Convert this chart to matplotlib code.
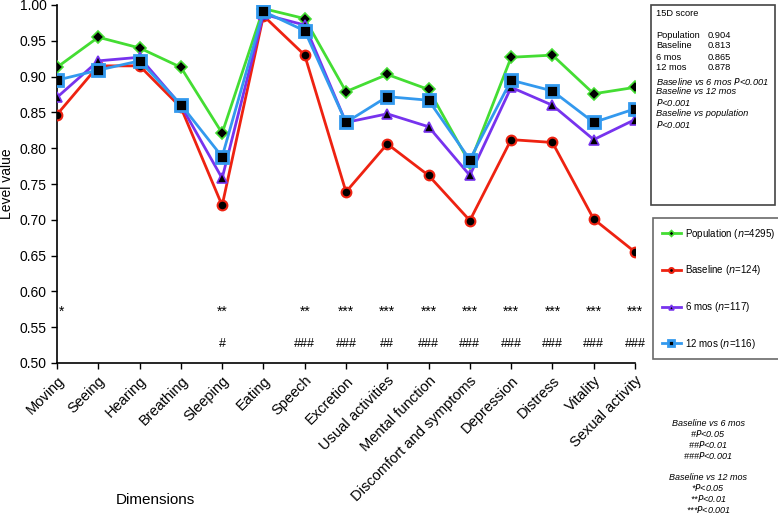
import numpy as np
import matplotlib.pyplot as plt

plt.rcParams['font.family'] = ['Liberation Sans', 'DejaVu Sans']

dimensions = ['Moving', 'Seeing', 'Hearing', 'Breathing', 'Sleeping', 'Eating',
              'Speech', 'Excretion', 'Usual activities', 'Mental function',
              'Discomfort and symptoms', 'Depression', 'Distress', 'Vitality',
              'Sexual activity']

population = [0.913, 0.955, 0.940, 0.913, 0.821, 0.995, 0.981, 0.879, 0.903,
              0.882, 0.779, 0.927, 0.930, 0.876, 0.885]
baseline = [0.847, 0.915, 0.915, 0.857, 0.720, 0.985, 0.930, 0.739, 0.806,
            0.762, 0.699, 0.812, 0.808, 0.701, 0.655]
mos6 = [0.871, 0.922, 0.927, 0.860, 0.758, 0.987, 0.972, 0.836, 0.848,
        0.830, 0.762, 0.885, 0.860, 0.812, 0.840]
mos12 = [0.895, 0.909, 0.922, 0.861, 0.788, 0.991, 0.964, 0.836, 0.872,
         0.867, 0.784, 0.895, 0.880, 0.836, 0.855]

stars = ['*', '', '', '', '**', '', '**', '***', '***', '***', '***', '***',
         '***', '***', '***']
hashes = ['', '', '', '', '#', '', '###', '###', '##', '###', '###', '###',
          '###', '###', '###']

score_lines = [('Population', '0.904'), ('Baseline', '0.813'),
               ('6 mos', '0.865'), ('12 mos', '0.878')]

fig = plt.figure(figsize=(7.78, 5.16), dpi=100)
ax = fig.add_axes([57 / 778, 1 - 363 / 516, (635 - 57) / 778, (363 - 5) / 516])

x = np.arange(len(dimensions))
ax.plot(x, population, color='#44dd33', lw=2, marker='D', ms=6,
        mfc='black', mec='#44dd33', mew=1.2, label='Population ($n$=4295)', zorder=3)
ax.plot(x, baseline, color='#ee2211', lw=2, marker='o', ms=7,
        mfc='black', mec='#ee2211', mew=1.5, label='Baseline ($n$=124)', zorder=4)
ax.plot(x, mos6, color='#7733ee', lw=2, marker='^', ms=7,
        mfc='black', mec='#7733ee', mew=1.2, label='6 mos ($n$=117)', zorder=5)
ax.plot(x, mos12, color='#3399ee', lw=2, marker='s', ms=8,
        mfc='black', mec='#3399ee', mew=2, label='12 mos ($n$=116)', zorder=6)

for i in range(len(dimensions)):
    if stars[i]:
        xs = i + 0.12 if i == 0 else i
        ax.text(xs, 0.572, stars[i], ha='center', va='center', fontsize=10)
    if hashes[i]:
        ax.text(i, 0.527, hashes[i], ha='center', va='center', fontsize=9)

ax.set_xlim(0, len(dimensions) - 1)
ax.set_ylim(0.5, 1.0)
ax.set_yticks(np.arange(0.5, 1.001, 0.05))
ax.set_yticklabels(['%.2f' % v for v in np.arange(0.5, 1.001, 0.05)], fontsize=10)
ax.set_xticks(x)
ax.set_xticklabels(dimensions, rotation=45, ha='right', rotation_mode='anchor',
                   fontsize=10.5)
ax.tick_params(axis='both', length=4, width=1, direction='out')
for s in ['top', 'right']:
    ax.spines[s].set_visible(False)
ax.spines['left'].set_linewidth(1.2)
ax.spines['bottom'].set_linewidth(1.2)

ax.set_ylabel('Level value', fontsize=10, labelpad=4)
fig.text(155 / 778, 1 - 500 / 516, 'Dimensions', ha='center', va='center', fontsize=11)

# 15D score box
box = plt.Rectangle((651 / 778, 1 - 205 / 516), 124 / 778, 200 / 516,
                    transform=fig.transFigure, fill=False, ec='#444444', lw=1.2)
fig.add_artist(box)
fig.text(656 / 778, 1 - 14 / 516, '15D score', fontsize=6.7, va='center')
for k, (name, val) in enumerate(score_lines):
    yy = 1 - (35 + k * 11) / 516
    fig.text(656 / 778, yy, name, fontsize=6.7, va='center')
    fig.text(708 / 778, yy, val, fontsize=6.7, va='center')
notes = ['Baseline vs 6 mos $P$<0.001', 'Baseline vs 12 mos', '$P$<0.001',
         'Baseline vs population', '$P$<0.001']
for k, t in enumerate(notes):
    fig.text(656 / 778, 1 - (81 + k * 11) / 516, t, fontsize=6.7,
             style='italic', va='center')

# legend box
leg = fig.legend(loc='upper left',
                 bbox_to_anchor=(653 / 778, 1 - 218 / 516),
                 frameon=True, fontsize=7, labelspacing=2.33, handlelength=2.0,
                 handletextpad=0.4, borderpad=0.9, borderaxespad=0,
                 fancybox=False, markerscale=0.5)
leg.get_frame().set_edgecolor('#444444')
leg.get_frame().set_linewidth(1.2)

foot = ['Baseline vs 6 mos', '#$P$<0.05', '##$P$<0.01', '###$P$<0.001', '',
        'Baseline vs 12 mos', '*$P$<0.05', '**$P$<0.01', '***$P$<0.001']
for k, t in enumerate(foot):
    if t:
        fig.text(708 / 778, 1 - (423 + k * 10.8) / 516, t, fontsize=6.5,
                 style='italic', ha='center', va='center')

fig.savefig('out.png', dpi=100)
